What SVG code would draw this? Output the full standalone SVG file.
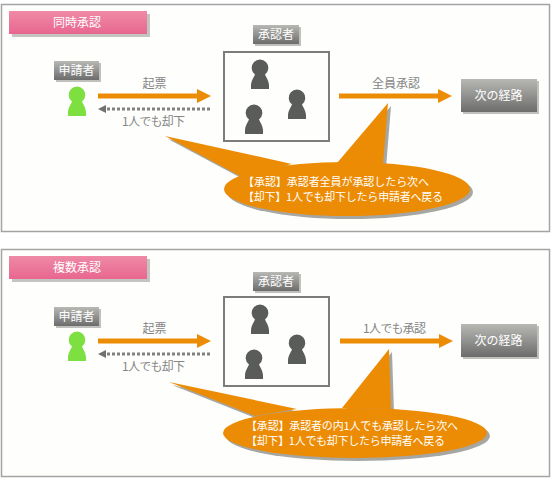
<svg xmlns="http://www.w3.org/2000/svg" xmlns:xlink="http://www.w3.org/1999/xlink" width="551" height="480" viewBox="0 0 551 480">
<style>
text{font-family:"Noto Sans CJK JP","Noto Sans",sans-serif;font-size:12px;text-anchor:middle}
.panel{fill:#fefefc;stroke:#a4a4a4;stroke-width:1.5}
.title{fill:url(#pink)}
.titleShadow{fill:#c4c4c0}
.tag{fill:url(#gray)}
.tagShadow{fill:#c0c0bc}
.white{fill:#fff}
.lab{fill:#858585}
.frame{fill:#fefefc;stroke:#7c7c7c;stroke-width:2}
.go{stroke:#ec8c04;stroke-width:5;fill:none;marker-end:url(#ah)}
.back{stroke:#808080;stroke-width:3;stroke-dasharray:3 2;fill:none}
.backHead{fill:#707070}
.coS{fill:#a6a6a2}
.co{fill:#ec8c04}
.note{font-size:11px;text-anchor:start;fill:#fff}
.dark{fill:#5a5c59}
.green{fill:#7ee040}
</style>
<defs>
<linearGradient id="pink" x1="0" y1="0" x2="0" y2="1"><stop offset="0" stop-color="#ef8aa6"/><stop offset="1" stop-color="#e86690"/></linearGradient>
<linearGradient id="gray" x1="0" y1="0" x2="0" y2="1"><stop offset="0" stop-color="#b8b8b4"/><stop offset="1" stop-color="#6c6c6c"/></linearGradient>
<marker id="ah" markerUnits="userSpaceOnUse" markerWidth="14" markerHeight="14" refX="0" refY="7" orient="auto"><path d="M0,0L14,7L0,14Z" fill="#ec8c04"/></marker>
<path id="person" d="M-9,0V-4C-8.500,-9-6.500,-11-5,-14.500A8.300,8.300 0 1 1 5,-14.500C6.500,-11 8.500,-9 9,-4V0Z"/>
</defs>
<rect width="551" height="480" fill="#fff"/>

<g id="panel1">
<rect class="panel" x="1.500" y="4.500" width="548" height="227"/>
<rect class="titleShadow" x="12" y="14" width="138" height="23"/>
<rect class="title" x="9" y="11" width="138" height="23"/>
<text class="white" x="77" y="27">同時承認</text>
</g>
<g id="applicant1">
<rect class="tagShadow" x="56" y="63" width="45" height="19"/>
<rect class="tag" x="54" y="61" width="45" height="19"/>
<text class="white" x="76.500" y="75">申請者</text>
<use href="#person" class="green" x="77" y="116"/>
</g>
<g id="approvers1">
<rect class="tagShadow" x="255" y="27" width="46" height="19"/>
<rect class="tag" x="253" y="25" width="46" height="19"/>
<text class="white" x="276" y="39">承認者</text>
<rect class="frame" x="224" y="52" width="105" height="89"/>
<use href="#person" class="dark" x="260" y="89"/>
<use href="#person" class="dark" x="254" y="134"/>
<use href="#person" class="dark" x="297" y="119"/>
</g>
<g id="next1">
<rect class="tagShadow" x="463" y="81" width="76" height="33"/>
<rect class="tag" x="461" y="79" width="76" height="33"/>
<text class="white" x="498.500" y="100">次の経路</text>
</g>
<g id="connectors1">
<line class="go" x1="98" y1="96" x2="197" y2="96"/>
<line class="back" x1="107" y1="109" x2="211" y2="109"/>
<path class="backHead" d="M98,109L106,105V113Z"/>
<line class="go" x1="339" y1="96" x2="438" y2="96"/>
<text class="lab" x="154.500" y="88">起票</text>
<text class="lab" x="153.500" y="126" textLength="63">1人でも却下</text>
<text class="lab" x="396" y="88">全員承認</text>
</g>
<g id="callout1">
<g transform="translate(3,3)"><ellipse class="coS" cx="347" cy="189" rx="123" ry="27"/><path class="coS" d="M165,136L292,164L240,176ZM388,103L337,163L383,165Z"/></g>
<ellipse class="co" cx="347" cy="189" rx="123" ry="27"/>
<path class="co" d="M165,136L292,164L240,176ZM388,103L337,163L383,165Z"/>
<text class="note" x="243" y="186" textLength="186">【承認】承認者全員が承認したら次へ</text>
<text class="note" x="243" y="201" textLength="200">【却下】1人でも却下したら申請者へ戻る</text>
</g>

<g id="panel2">
<rect class="panel" x="1.500" y="249.500" width="548" height="227"/>
<rect class="titleShadow" x="12" y="259" width="138" height="23"/>
<rect class="title" x="9" y="256" width="138" height="23"/>
<text class="white" x="77" y="272">複数承認</text>
</g>
<g id="applicant2">
<rect class="tagShadow" x="56" y="309" width="45" height="19"/>
<rect class="tag" x="54" y="307" width="45" height="19"/>
<text class="white" x="76.500" y="321">申請者</text>
<use href="#person" class="green" x="77" y="361"/>
</g>
<g id="approvers2">
<rect class="tagShadow" x="255" y="274" width="46" height="19"/>
<rect class="tag" x="253" y="272" width="46" height="19"/>
<text class="white" x="276" y="286">承認者</text>
<rect class="frame" x="224" y="297" width="105" height="89"/>
<use href="#person" class="dark" x="260" y="334"/>
<use href="#person" class="dark" x="254" y="379"/>
<use href="#person" class="dark" x="297" y="364"/>
</g>
<g id="next2">
<rect class="tagShadow" x="463" y="326" width="76" height="33"/>
<rect class="tag" x="461" y="324" width="76" height="33"/>
<text class="white" x="498.500" y="345">次の経路</text>
</g>
<g id="connectors2">
<line class="go" x1="98" y1="341" x2="197" y2="341"/>
<line class="back" x1="107" y1="354" x2="211" y2="354"/>
<path class="backHead" d="M98,354L106,350V358Z"/>
<line class="go" x1="340" y1="341" x2="439" y2="341"/>
<text class="lab" x="154.500" y="333">起票</text>
<text class="lab" x="153.500" y="371" textLength="63">1人でも却下</text>
<text class="lab" x="394.500" y="333" textLength="63">1人でも承認</text>
</g>
<g id="callout2">
<g transform="translate(3,3)"><ellipse class="coS" cx="355" cy="433" rx="132" ry="25"/><path class="coS" d="M169,382L297,409L255,416ZM389,349L342,408L391,409Z"/></g>
<ellipse class="co" cx="355" cy="433" rx="132" ry="25"/>
<path class="co" d="M169,382L297,409L255,416ZM389,349L342,408L391,409Z"/>
<text class="note" x="246" y="430" textLength="212">【承認】承認者の内1人でも承認したら次へ</text>
<text class="note" x="246" y="445" textLength="199">【却下】1人でも却下したら申請者へ戻る</text>
</g>
</svg>
